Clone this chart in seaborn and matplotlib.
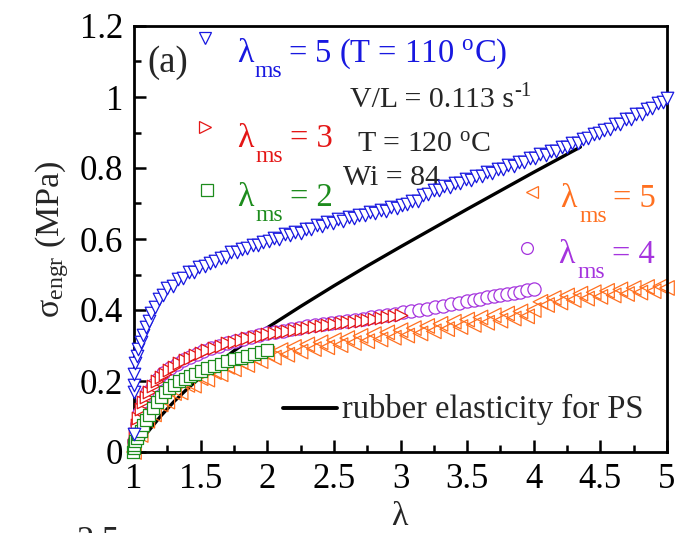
import numpy as np
import pandas as pd
import matplotlib
matplotlib.use("Agg")
import matplotlib.pyplot as plt
from matplotlib.ticker import MultipleLocator, FuncFormatter
import seaborn as sns

# ---- stress-stretch data -------------------------------------------------
# lambda_ms = 5, stretched at 110 C
lam_b = [1.00, 1.00, 1.00, 1.00, 1.01, 1.02, 1.03, 1.05, 1.07, 1.09, 1.11, 1.13,
         1.16, 1.19, 1.22, 1.25, 1.29, 1.33, 1.37, 1.41, 1.45, 1.49, 1.53, 1.57,
         1.61, 1.65, 1.69, 1.73, 1.77, 1.81, 1.85, 1.89, 1.93, 1.97, 2.01, 2.05,
         2.09, 2.13, 2.17, 2.21, 2.25, 2.29, 2.33, 2.37, 2.41, 2.45, 2.49, 2.53,
         2.57, 2.61, 2.65, 2.69, 2.73, 2.77, 2.81, 2.85, 2.89, 2.93, 2.97, 3.01,
         3.05, 3.09, 3.13, 3.17, 3.21, 3.25, 3.29, 3.33, 3.37, 3.41, 3.45, 3.49,
         3.53, 3.57, 3.61, 3.65, 3.69, 3.73, 3.77, 3.81, 3.85, 3.89, 3.93, 3.97,
         4.01, 4.05, 4.09, 4.13, 4.17, 4.21, 4.25, 4.29, 4.33, 4.37, 4.41, 4.45,
         4.49, 4.53, 4.57, 4.61, 4.65, 4.69, 4.73, 4.77, 4.81, 4.85, 4.89, 4.93,
         4.97, 5.00]
sig_b = [0.050, 0.170, 0.190, 0.220, 0.250, 0.270, 0.290, 0.310, 0.330, 0.352, 0.368, 0.392,
         0.408, 0.432, 0.443, 0.462, 0.468, 0.487, 0.489, 0.507, 0.508, 0.522, 0.523, 0.533,
         0.538, 0.547, 0.549, 0.562, 0.563, 0.573, 0.574, 0.583, 0.584, 0.592, 0.594, 0.603,
         0.601, 0.613, 0.610, 0.620, 0.618, 0.628, 0.627, 0.639, 0.637, 0.648, 0.645, 0.655,
         0.652, 0.663, 0.659, 0.668, 0.667, 0.675, 0.672, 0.683, 0.680, 0.689, 0.687, 0.696,
         0.698, 0.708, 0.707, 0.723, 0.727, 0.738, 0.737, 0.748, 0.747, 0.758, 0.757, 0.768,
         0.767, 0.778, 0.777, 0.788, 0.787, 0.798, 0.797, 0.808, 0.807, 0.818, 0.817, 0.828,
         0.828, 0.839, 0.838, 0.848, 0.848, 0.860, 0.860, 0.871, 0.871, 0.883, 0.884, 0.895,
         0.898, 0.908, 0.910, 0.923, 0.924, 0.937, 0.938, 0.951, 0.953, 0.966, 0.968, 0.983,
         0.987, 0.998]

# lambda_ms = 3
lam_r = [1.00, 1.01, 1.02, 1.03, 1.05, 1.07, 1.09, 1.11, 1.14, 1.17, 1.20, 1.23,
         1.26, 1.30, 1.34, 1.38, 1.42, 1.46, 1.50, 1.55, 1.60, 1.65, 1.70, 1.75,
         1.80, 1.85, 1.90, 1.95, 2.00, 2.05, 2.10, 2.15, 2.20, 2.25, 2.30, 2.35,
         2.40, 2.45, 2.50, 2.55, 2.60, 2.65, 2.70, 2.75, 2.80, 2.85, 2.90, 2.95, 3.00]
sig_r = [0.020, 0.050, 0.075, 0.095, 0.120, 0.140, 0.155, 0.170, 0.185, 0.200, 0.210, 0.220,
         0.230, 0.240, 0.250, 0.258, 0.266, 0.273, 0.280, 0.287, 0.294, 0.300, 0.306, 0.311,
         0.316, 0.320, 0.324, 0.328, 0.332, 0.335, 0.338, 0.341, 0.344, 0.347, 0.350, 0.352,
         0.355, 0.357, 0.360, 0.362, 0.365, 0.367, 0.370, 0.372, 0.375, 0.377, 0.380, 0.382, 0.385]

# lambda_ms = 2
lam_g = [0.99, 1.00, 1.00, 1.01, 1.02, 1.03, 1.05, 1.07, 1.09, 1.11, 1.14, 1.17,
         1.20, 1.23, 1.26, 1.30, 1.34, 1.38, 1.42, 1.46, 1.50, 1.55, 1.60, 1.65,
         1.70, 1.75, 1.80, 1.85, 1.90, 1.95, 2.00]
sig_g = [0.000, 0.010, 0.020, 0.030, 0.040, 0.050, 0.060, 0.075, 0.090, 0.105, 0.125, 0.140,
         0.155, 0.168, 0.180, 0.190, 0.200, 0.207, 0.214, 0.221, 0.228, 0.236, 0.243, 0.249,
         0.255, 0.261, 0.266, 0.271, 0.276, 0.281, 0.287]

# lambda_ms = 4
lam_p = [1.00, 1.02, 1.04, 1.07, 1.10, 1.14, 1.18, 1.22, 1.27, 1.32, 1.37, 1.42,
         1.47, 1.52, 1.58, 1.64, 1.70, 1.76, 1.82, 1.88, 1.94, 2.00, 2.06, 2.12,
         2.18, 2.24, 2.30, 2.36, 2.42, 2.48, 2.54, 2.60, 2.66, 2.72, 2.78, 2.84,
         2.90, 2.96, 3.02, 3.08, 3.14, 3.20, 3.26, 3.32, 3.38, 3.44, 3.50, 3.55,
         3.60, 3.65, 3.70, 3.75, 3.80, 3.85, 3.90, 3.95, 4.00]
sig_p = [0.030, 0.080, 0.110, 0.145, 0.170, 0.190, 0.207, 0.222, 0.236, 0.248, 0.259, 0.268,
         0.277, 0.285, 0.293, 0.300, 0.307, 0.313, 0.319, 0.324, 0.329, 0.334, 0.338, 0.342,
         0.346, 0.350, 0.354, 0.357, 0.361, 0.364, 0.367, 0.370, 0.373, 0.376, 0.379, 0.382,
         0.386, 0.389, 0.393, 0.397, 0.400, 0.404, 0.408, 0.412, 0.416, 0.420, 0.424, 0.428,
         0.432, 0.436, 0.440, 0.443, 0.446, 0.449, 0.452, 0.455, 0.458]

# lambda_ms = 5, stretched at 120 C
lam_o = [1.00, 1.05, 1.10, 1.15, 1.20, 1.25, 1.30, 1.35, 1.40, 1.45, 1.50, 1.55,
         1.60, 1.65, 1.70, 1.75, 1.80, 1.85, 1.90, 1.95, 2.00, 2.05, 2.10, 2.15,
         2.20, 2.25, 2.30, 2.35, 2.40, 2.45, 2.50, 2.55, 2.60, 2.65, 2.70, 2.75,
         2.80, 2.85, 2.90, 2.95, 3.00, 3.05, 3.10, 3.15, 3.20, 3.25, 3.30, 3.35,
         3.40, 3.45, 3.50, 3.55, 3.60, 3.65, 3.70, 3.75, 3.80, 3.85, 3.90, 3.95,
         4.00, 4.05, 4.10, 4.15, 4.20, 4.25, 4.30, 4.35, 4.40, 4.45, 4.50, 4.55,
         4.60, 4.65, 4.70, 4.75, 4.80, 4.85, 4.90, 4.95, 5.00]
sig_o = [0.000, 0.048, 0.088, 0.106, 0.134, 0.142, 0.166, 0.168, 0.189, 0.187, 0.208, 0.204,
         0.225, 0.219, 0.240, 0.233, 0.254, 0.245, 0.266, 0.256, 0.277, 0.266, 0.287, 0.274,
         0.296, 0.283, 0.303, 0.290, 0.309, 0.295, 0.315, 0.301, 0.321, 0.307, 0.327, 0.312,
         0.332, 0.317, 0.337, 0.322, 0.343, 0.328, 0.349, 0.334, 0.355, 0.340, 0.361, 0.346,
         0.367, 0.352, 0.373, 0.358, 0.379, 0.364, 0.385, 0.370, 0.390, 0.376, 0.396, 0.382,
         0.400, 0.423, 0.414, 0.434, 0.421, 0.441, 0.428, 0.446, 0.432, 0.450, 0.437, 0.454,
         0.441, 0.458, 0.445, 0.462, 0.449, 0.465, 0.453, 0.467, 0.462]

# rubber elasticity prediction for PS
lam_rub = [1.00, 1.10, 1.20, 1.30, 1.40, 1.50, 1.75, 2.00, 2.25, 2.50, 2.75, 3.00,
           3.25, 3.50, 3.75, 4.00, 4.35]
sig_rub = [0.000, 0.055, 0.101, 0.142, 0.178, 0.211, 0.285, 0.350, 0.410, 0.468, 0.524, 0.578,
           0.631, 0.684, 0.736, 0.788, 0.859]

x_ticks = [1, 1.5, 2, 2.5, 3, 3.5, 4, 4.5, 5]
y_ticks = [0, 0.2, 0.4, 0.6, 0.8, 1, 1.2]

BLUE = "#1818e0"
RED = "#e41616"
GREEN = "#1d8c1d"
ORANGE = "#ff7020"
PURPLE = "#a534de"

# ---- style ---------------------------------------------------------------
sns.set_theme(style="ticks")
plt.rcParams["font.family"] = ["Liberation Serif", "DejaVu Serif"]
plt.rcParams["mathtext.fontset"] = "custom"
plt.rcParams["mathtext.rm"] = "Liberation Serif"
plt.rcParams["mathtext.it"] = "Liberation Serif:italic"
plt.rcParams["mathtext.bf"] = "Liberation Serif:bold"

FS = 23.5
NOTE_FS = 21.5
TICK_FS = 25
W, H = 678, 533

fig = plt.figure(figsize=(W / 100, H / 100), dpi=100)
ax = fig.add_axes([134 / W, 81 / H, 533 / W, 426 / H])

sns.lineplot(x=lam_rub, y=sig_rub, ax=ax, color="black", linewidth=2.4,
             sort=False, estimator=None, zorder=1)

series = [
    (lam_o, sig_o, "<", ORANGE, "none", 10.5, 2),
    (lam_p, sig_p, "o", PURPLE, "white", 9.5, 3),
    (lam_r, sig_r, ">", RED, "white", 9.0, 4),
    (lam_g, sig_g, "s", GREEN, "white", 9.0, 5),
    (lam_b, sig_b, "v", BLUE, "white", 9.0, 6),
]
for xs, ys, mk, col, face, ms, z in series:
    sns.scatterplot(x=xs, y=ys, ax=ax, marker=mk, s=ms ** 2,
                    facecolor=face, edgecolor=col, linewidth=0.9,
                    clip_on=False, zorder=z)

ax.set_xlim(1, 5)
ax.set_ylim(0, 1.2)
ax.set_xticks(x_ticks)
ax.set_yticks(y_ticks)
ax.xaxis.set_minor_locator(MultipleLocator(0.25))
ax.yaxis.set_minor_locator(MultipleLocator(0.1))
fmt = FuncFormatter(lambda v, p: f"{v:g}")
ax.xaxis.set_major_formatter(fmt)
ax.yaxis.set_major_formatter(fmt)
ax.tick_params(which="both", direction="in", top=False, right=False,
               labelsize=TICK_FS, width=1.8, pad=8, colors="black")
ax.tick_params(which="major", length=8.5)
ax.tick_params(which="minor", length=5)
for sp in ax.spines.values():
    sp.set_linewidth(2.0)
    sp.set_color("black")
ax.grid(False)

ax.set_xlabel(r"$\mathrm{\lambda}$", fontsize=FS + 1, labelpad=4)
ax.set_ylabel(r"$\mathrm{\sigma_{engr}}$ (MPa)", fontsize=FS + 1, labelpad=6)

# ---- annotations (positions given in figure pixels from the top-left) ----
def fx(px):
    return px / W


def fy(py):
    return 1 - py / H


FT = fig.transFigure


def put(px, py, s, **kw):
    kw.setdefault("fontsize", FS)
    ax.text(fx(px), fy(py), s, transform=FT, va="baseline", **kw)


def key(px, py, mk, col, face, ms):
    ax.plot([fx(px)], [fy(py)], marker=mk, markersize=ms, markerfacecolor=face,
            markeredgecolor=col, markeredgewidth=0.9, linestyle="none",
            transform=FT, clip_on=False)


def lam_label(x_lam, x_ms, x_rest, base, rest, col):
    put(x_lam, base, "\u03bb", color=col, fontsize=FS + 1)
    put(x_ms, base + 15, "ms", color=col, fontsize=17)
    put(x_rest, base, rest, color=col)


put(147, 72, "(a)", fontsize=FS + 3)

key(205, 38, "v", BLUE, "white", 8.5)
lam_label(237, 255, 288, 62, r"= 5 (T = 110 $^{\mathrm{o}}$C)", BLUE)
key(205, 127, ">", RED, "white", 8.5)
lam_label(237, 256, 290, 147, "= 3", RED)
key(207, 190, "s", GREEN, "white", 9)
lam_label(237, 256, 290, 206, "= 2", GREEN)
key(532, 192, "<", ORANGE, "none", 8.5)
lam_label(560, 579, 613, 207, "= 5", ORANGE)
key(527, 248, "o", PURPLE, "none", 8.5)
lam_label(558, 577, 612, 263, "= 4", PURPLE)

put(350, 107, "V/L = 0.113 s", fontsize=NOTE_FS)
put(514, 96, "-1", fontsize=15)
put(357, 152, r"T = 120 $^{\mathrm{o}}$C", fontsize=NOTE_FS)
put(343, 185, "Wi = 84", fontsize=NOTE_FS)

ax.plot([fx(283), fx(337)], [fy(408), fy(408)], color="black", linewidth=2.8,
        transform=FT, clip_on=False)
put(342, 418, "rubber elasticity for PS")

# tick label of the panel underneath, cut by the bottom edge
fig.text(fx(120), fy(526), "2.5", fontsize=TICK_FS, ha="right", va="top")

fig.savefig("out.png", dpi=100)
